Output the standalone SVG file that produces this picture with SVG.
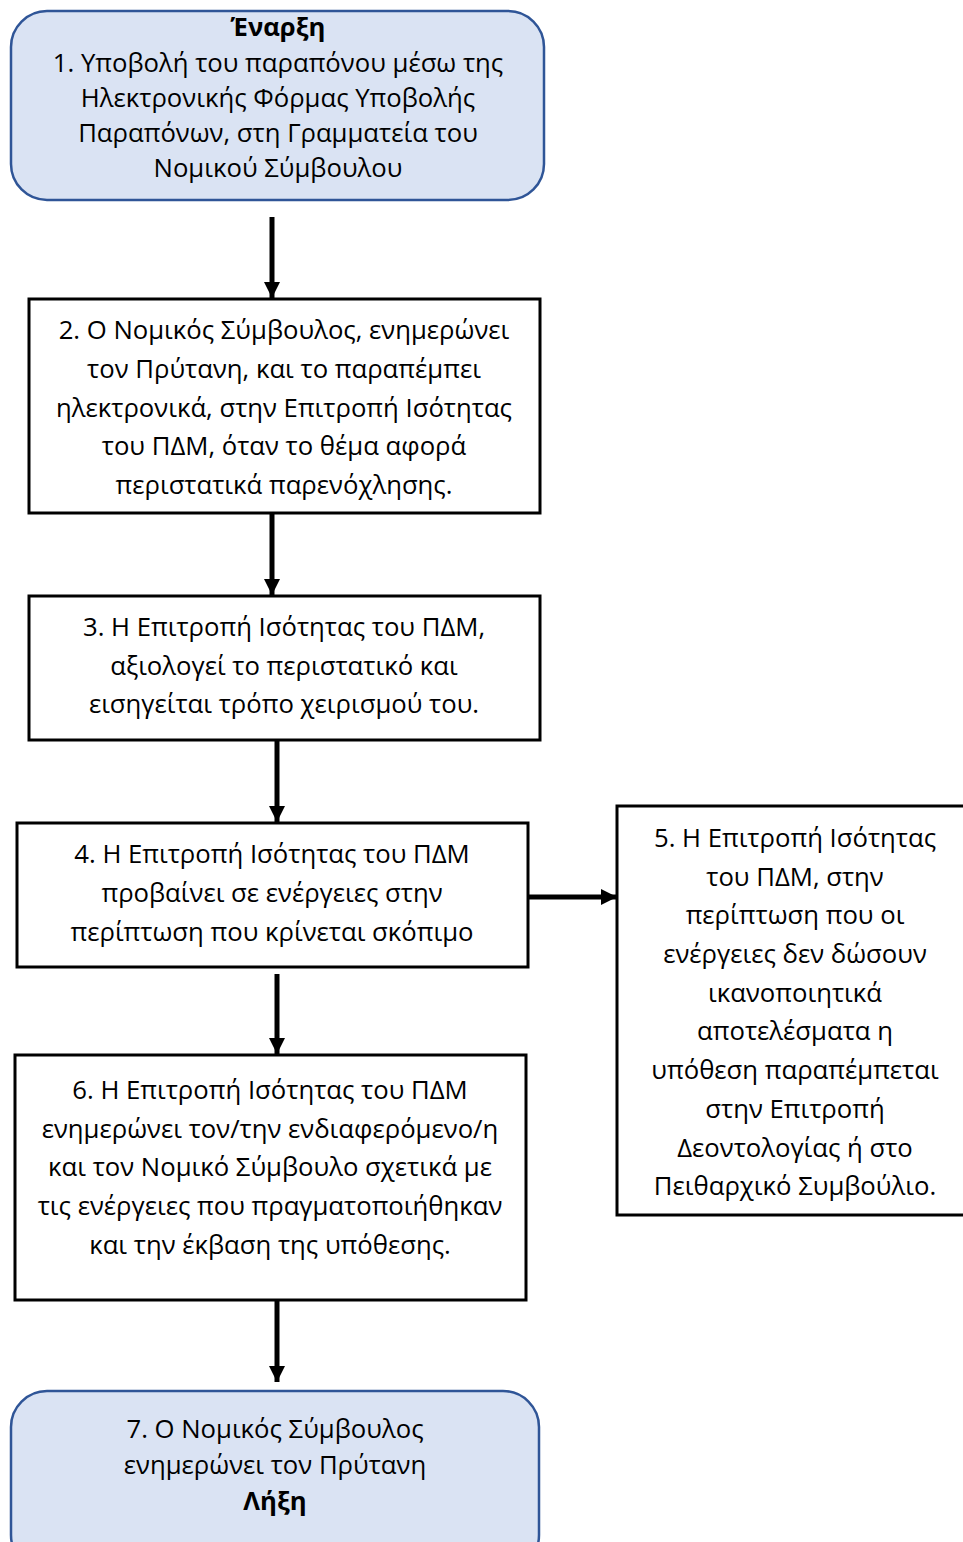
<svg xmlns="http://www.w3.org/2000/svg" width="963" height="1542" viewBox="0 0 963 1542">
<defs>
<style>
.term{fill:#dae3f3;stroke:#2f5597;stroke-width:2.5}
.box{fill:#fff;stroke:#000;stroke-width:3}
.t{font-family:"Open Sans","Noto Sans",sans-serif;font-size:25.7px;fill:#000;text-anchor:middle}
.b{font-weight:bold}
.c{stroke:#000;stroke-width:5;fill:none}
</style>
<marker id="ah" markerUnits="userSpaceOnUse" markerWidth="18" markerHeight="18" refX="16" refY="9" orient="auto">
<path d="M0,1 L16,9 L0,17 Z" fill="#000"/>
</marker>
</defs>
<rect width="963" height="1542" fill="#fff"/>
<g id="connectors">
<line class="c" x1="272" y1="217" x2="272" y2="298" marker-end="url(#ah)"/>
<line class="c" x1="272" y1="513" x2="272" y2="595" marker-end="url(#ah)"/>
<line class="c" x1="277" y1="740" x2="277" y2="822" marker-end="url(#ah)"/>
<line class="c" x1="528" y1="897" x2="617" y2="897" marker-end="url(#ah)"/>
<line class="c" x1="277" y1="974" x2="277" y2="1054" marker-end="url(#ah)"/>
<line class="c" x1="277" y1="1300" x2="277" y2="1382" marker-end="url(#ah)"/>
</g>
<g id="node1">
<rect class="term" x="11" y="11" width="533" height="189" rx="36"/>
<text class="t b" x="278" y="36">Έναρξη</text>
<text class="t" x="278" y="72">1. Υποβολή του παραπόνου μέσω της</text>
<text class="t" x="278" y="107">Ηλεκτρονικής Φόρμας Υποβολής</text>
<text class="t" x="278" y="142">Παραπόνων, στη Γραμματεία του</text>
<text class="t" x="278" y="177">Νομικού Σύμβουλου</text>
</g>
<g id="node2">
<rect class="box" x="29" y="299" width="511" height="214"/>
<text class="t" x="284" y="339">2. Ο Νομικός Σύμβουλος, ενημερώνει</text>
<text class="t" x="284" y="378">τον Πρύτανη, και το παραπέμπει</text>
<text class="t" x="284" y="417">ηλεκτρονικά, στην Επιτροπή Ισότητας</text>
<text class="t" x="284" y="455">του ΠΔΜ, όταν το θέμα αφορά</text>
<text class="t" x="284" y="494">περιστατικά παρενόχλησης.</text>
</g>
<g id="node3">
<rect class="box" x="29" y="596" width="511" height="144"/>
<text class="t" x="284" y="636">3. Η Επιτροπή Ισότητας του ΠΔΜ,</text>
<text class="t" x="284" y="675">αξιολογεί το περιστατικό και</text>
<text class="t" x="284" y="713">εισηγείται τρόπο χειρισμού του.</text>
</g>
<g id="node4">
<rect class="box" x="17" y="823" width="511" height="144"/>
<text class="t" x="272" y="863">4. Η Επιτροπή Ισότητας του ΠΔΜ</text>
<text class="t" x="272" y="902">προβαίνει σε ενέργειες στην</text>
<text class="t" x="272" y="941">περίπτωση που κρίνεται σκόπιμο</text>
</g>
<g id="node5">
<rect class="box" x="617" y="806" width="360" height="409"/>
<text class="t" x="795" y="847">5. Η Επιτροπή Ισότητας</text>
<text class="t" x="795" y="886">του ΠΔΜ, στην</text>
<text class="t" x="795" y="924">περίπτωση που οι</text>
<text class="t" x="795" y="963">ενέργειες δεν δώσουν</text>
<text class="t" x="795" y="1002">ικανοποιητικά</text>
<text class="t" x="795" y="1040">αποτελέσματα η</text>
<text class="t" x="795" y="1079">υπόθεση παραπέμπεται</text>
<text class="t" x="795" y="1118">στην Επιτροπή</text>
<text class="t" x="795" y="1157">Δεοντολογίας ή στο</text>
<text class="t" x="795" y="1195">Πειθαρχικό Συμβούλιο.</text>
</g>
<g id="node6">
<rect class="box" x="15" y="1055" width="511" height="245"/>
<text class="t" x="270" y="1099">6. Η Επιτροπή Ισότητας του ΠΔΜ</text>
<text class="t" x="270" y="1138">ενημερώνει τον/την ενδιαφερόμενο/η</text>
<text class="t" x="270" y="1176">και τον Νομικό Σύμβουλο σχετικά με</text>
<text class="t" x="270" y="1215">τις ενέργειες που πραγματοποιήθηκαν</text>
<text class="t" x="270" y="1254">και την έκβαση της υπόθεσης.</text>
</g>
<g id="node7">
<rect class="term" x="11" y="1391" width="528" height="180" rx="36"/>
<text class="t" x="275" y="1438">7. Ο Νομικός Σύμβουλος</text>
<text class="t" x="275" y="1474">ενημερώνει τον Πρύτανη</text>
<text class="t b" x="275" y="1510">Λήξη</text>
</g>
</svg>
